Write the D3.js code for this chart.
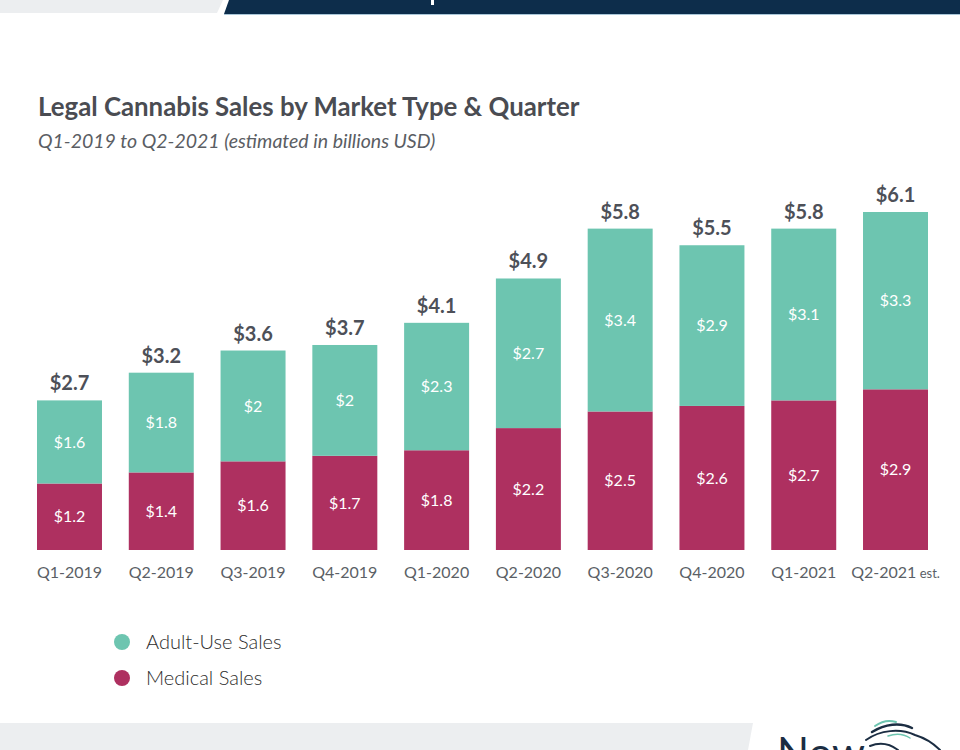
<!DOCTYPE html>
<html>
<head>
<meta charset="utf-8">
<script src="https://cdn.jsdelivr.net/npm/d3@7"></script>
<style>
  html, body { margin: 0; padding: 0; background: #fff; }
  svg { display: block; }
</style>
</head>
<body>
<svg id="chart" width="960" height="750"></svg>
<script>
// ---- data ----
const quarters = ["Q1-2019", "Q2-2019", "Q3-2019", "Q4-2019", "Q1-2020", "Q2-2020", "Q3-2020", "Q4-2020", "Q1-2021", "Q2-2021"];
const quarterSuffix = ["", "", "", "", "", "", "", "", "", " est."];
const medicalSales = [1.2, 1.4, 1.6, 1.7, 1.8, 2.2, 2.5, 2.6, 2.7, 2.9];
const adultUseSales = [1.6, 1.8, 2, 2, 2.3, 2.7, 3.4, 2.9, 3.1, 3.3];
const totalSales = [2.7, 3.2, 3.6, 3.7, 4.1, 4.9, 5.8, 5.5, 5.8, 6.1];
const seriesNames = ["Adult-Use Sales", "Medical Sales"];

const colors = { adult: "#6dc5b0", medical: "#ae3060" };
const svg = d3.select("#chart");
const FONT = "Lato, 'Open Sans', sans-serif";

// ---- decorative header / footer bands ----
svg.append("polygon").attr("points", "0,0 223,0 217,13 0,13").attr("fill", "#eceef0");
svg.append("polygon").attr("points", "229,0 960,0 960,14 224,14").attr("fill", "#0d2d4b");
svg.append("line").attr("x1", 224).attr("x2", 960).attr("y1", 14.5).attr("y2", 14.5).attr("stroke", "#a9c6d8").attr("stroke-width", 1);
svg.append("rect").attr("x", 431).attr("y", 0).attr("width", 3).attr("height", 5).attr("fill", "#ffffff");

svg.append("polygon").attr("points", "0,723 753,723 748,750 0,750").attr("fill", "#eceef0");
svg.append("text").attr("x", 777).attr("y", 768).attr("font-family", FONT).attr("font-size", 42)
  .attr("font-weight", 400).attr("fill", "#1b2d42").text("Now");
// simple horse-head mark
const logo = svg.append("g").attr("fill", "none").attr("stroke-linecap", "round");
logo.append("path").attr("d", "M866,740 C880,730 900,728 915,735 C925,738 935,745 940,750").attr("stroke", "#1b2d42").attr("stroke-width", 2);
logo.append("path").attr("d", "M872,732 C885,724 900,722 912,728").attr("stroke", "#1b2d42").attr("stroke-width", 2.5);
logo.append("path").attr("d", "M875,726 C882,721 890,720 896,722").attr("stroke", "#6dc5b0").attr("stroke-width", 2);
logo.append("path").attr("d", "M870,746 C880,742 890,744 898,750").attr("stroke", "#1b2d42").attr("stroke-width", 2);
logo.append("path").attr("d", "M888,736 C896,733 904,734 910,738").attr("stroke", "#6dc5b0").attr("stroke-width", 1.5);

// ---- titles ----
svg.append("text").attr("x", 38).attr("y", 116).attr("font-family", FONT).attr("font-weight", 700)
  .attr("font-size", 25.8).attr("fill", "#4a4c52").text("Legal Cannabis Sales by Market Type & Quarter");
svg.append("text").attr("x", 38).attr("y", 148).attr("font-family", FONT).attr("font-style", "italic")
  .attr("font-weight", 400).attr("font-size", 19.5).attr("fill", "#5a5d63").text("Q1-2019 to Q2-2021 (estimated in billions USD)");

// ---- scales ----
const x = d3.scaleBand().domain(quarters).range([37, 928]).paddingInner(0.292).paddingOuter(0);
const y = d3.scaleLinear().domain([0, d3.max(totalSales)]).range([550, 212]);

const data = quarters.map((q, i) => ({
  q, med: medicalSales[i], adult: adultUseSales[i], total: totalSales[i], suffix: quarterSuffix[i]
}));

// ---- bars ----
const g = svg.append("g");
g.selectAll("rect.med").data(data).join("rect").attr("class", "med")
  .attr("x", d => x(d.q)).attr("width", x.bandwidth())
  .attr("y", d => y(d.med)).attr("height", d => y(0) - y(d.med))
  .attr("fill", colors.medical);
g.selectAll("rect.adult").data(data).join("rect").attr("class", "adult")
  .attr("x", d => x(d.q)).attr("width", x.bandwidth())
  .attr("y", d => y(d.total)).attr("height", d => y(d.med) - y(d.total))
  .attr("fill", colors.adult);

// inner labels
g.selectAll("text.medl").data(data).join("text").attr("class", "medl")
  .attr("x", d => x(d.q) + x.bandwidth() / 2).attr("y", d => (y(0) + y(d.med)) / 2)
  .attr("dy", "0.35em").attr("text-anchor", "middle").attr("font-family", FONT)
  .attr("font-size", 16).attr("fill", "#ffffff").text(d => "$" + d.med);
g.selectAll("text.adl").data(data).join("text").attr("class", "adl")
  .attr("x", d => x(d.q) + x.bandwidth() / 2).attr("y", d => (y(d.med) + y(d.total)) / 2)
  .attr("dy", "0.35em").attr("text-anchor", "middle").attr("font-family", FONT)
  .attr("font-size", 16).attr("fill", "#ffffff").text(d => "$" + d.adult);
// totals
g.selectAll("text.tot").data(data).join("text").attr("class", "tot")
  .attr("x", d => x(d.q) + x.bandwidth() / 2).attr("y", d => y(d.total) - 10)
  .attr("text-anchor", "middle").attr("font-family", FONT).attr("font-weight", 700)
  .attr("font-size", 20).attr("fill", "#4d5058").text(d => "$" + d.total);

// ---- x axis ----
const xAxis = svg.append("g").attr("transform", "translate(0,550)")
  .call(d3.axisBottom(x).tickSize(0).tickPadding(0).tickFormat(() => ""));
xAxis.select(".domain").remove();
xAxis.selectAll(".tick text").remove();
xAxis.selectAll(".tick").each(function(q, i) {
  const t = d3.select(this).append("text").attr("y", 28).attr("text-anchor", "middle")
    .attr("font-family", FONT).attr("font-size", 16).attr("fill", "#5b5f66");
  t.append("tspan").text(q);
  if (quarterSuffix[i]) t.append("tspan").attr("font-size", 13).text(quarterSuffix[i]);
});

// ---- legend ----
const legend = svg.append("g");
const legendColors = [colors.adult, colors.medical];
seriesNames.forEach((name, i) => {
  const ly = 642 + i * 36;
  legend.append("circle").attr("cx", 122).attr("cy", ly).attr("r", 8).attr("fill", legendColors[i]);
  legend.append("text").attr("x", 146).attr("y", ly).attr("dy", "0.35em").attr("font-family", FONT)
    .attr("font-weight", 300).attr("font-size", 20).attr("fill", "#2d2d2d").text(name);
});
</script>
</body>
</html>
